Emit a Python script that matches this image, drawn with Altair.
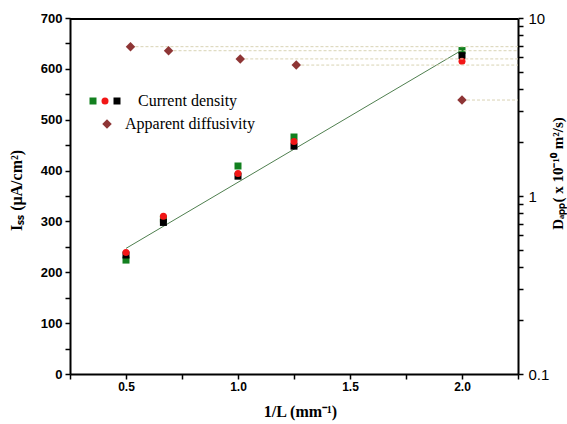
import altair as alt
import pandas as pd

# ---- data ----
inv_L = [0.5, 0.667, 1.0, 1.25, 2.0]
cd_green = [224, 305, 409, 466, 636]
cd_red = [239, 310, 394, 457, 615]
cd_black = [234, 298, 389, 448, 626]
fit_x = [0.5, 2.0]
fit_y = [247, 637]
diff_x = [0.52, 0.69, 1.01, 1.26, 2.0]
diff_y = [6.9, 6.55, 5.89, 5.44, 3.46]

X_MIN, X_MAX = 0.25, 2.25
Y_MAX = 700
x_ticks = [0.25, 0.5, 0.75, 1.0, 1.25, 1.5, 1.75, 2.0, 2.25]
y_ticks = list(range(0, 701, 50))
log_ticks = [0.1, 0.2, 0.3, 0.4, 0.5, 0.6, 0.7, 0.8, 0.9,
             1, 2, 3, 4, 5, 6, 7, 8, 9, 10]

cd_df = pd.DataFrame({"x": inv_L, "green": cd_green, "red": cd_red, "black": cd_black})
fit_df = pd.DataFrame({"x": fit_x, "y": fit_y})
diff_df = pd.DataFrame({"x": diff_x, "y": diff_y, "x_end": [X_MAX] * len(diff_x)})
# top edge of the frame, as a thin filled band at the top of the plot
top_df = pd.DataFrame({"x": [X_MIN], "x_end": [X_MAX], "y": [Y_MAX], "y_end": [Y_MAX - 4]})

SANS = "Liberation Sans"
SERIF = "Liberation Serif"
W, H = 448, 356

x_scale = alt.Scale(domain=[X_MIN, X_MAX], nice=False, zero=False)
y_scale = alt.Scale(domain=[0, Y_MAX], nice=False)
log_scale = alt.Scale(type="log", domain=[0.1, 10], nice=False)

common = dict(grid=False, domain=True, domainColor="black", domainWidth=2,
              tickSize=5, tickWidth=1.5, tickColor="black", labelColor="black",
              titleColor="black")

x_axis = alt.Axis(
    orient="bottom", values=x_ticks,
    labelExpr="(round(datum.value*4) % 2 == 0) ? format(datum.value, '.1f') : ''",
    labelFont=SANS, labelFontSize=12, labelFontWeight="bold", labelPadding=2,
    title="1/L (mm⁻¹)", titleFont=SERIF, titleFontSize=16, titleFontWeight="bold",
    titleX=230, titleY=37, titleBaseline="middle", titleAlign="center",
    **common,
)
y_axis = alt.Axis(
    orient="left", values=y_ticks,
    labelExpr="datum.value % 100 == 0 ? datum.value : ''",
    labelFont=SANS, labelFontSize=13, labelFontWeight="bold", labelPadding=3,
    title="Iₛₛ (μA/cm²)", titleFont=SERIF, titleFontSize=16, titleFontWeight="bold",
    titleX=-54, titleY=172, titleAngle=270,
    titleBaseline="middle", titleAlign="center",
    **common,
)
r_axis = alt.Axis(
    orient="right", values=log_ticks,
    labelExpr="(datum.value == 0.1 || datum.value == 1 || datum.value == 10) ? datum.value + '' : ''",
    labelFont=SANS, labelFontSize=15, labelPadding=5,
    title="Dₐₚₚ( x 10⁻¹⁰ m²/s)", titleFont=SERIF, titleFontSize=15, titleFontWeight="bold",
    titleX=39, titleY=155, titleAngle=270,
    titleBaseline="middle", titleAlign="center",
    **common,
)

X = alt.X("x:Q", scale=x_scale, axis=x_axis)

top = alt.Chart(top_df).mark_rect(color="black", opacity=1).encode(
    x=X, x2="x_end:Q", y=alt.Y("y:Q", scale=y_scale, axis=y_axis), y2="y_end:Q"
)

fit = alt.Chart(fit_df).mark_line(color="#4f7f4f", strokeWidth=1).encode(
    x=X, y=alt.Y("y:Q", scale=y_scale, axis=y_axis)
)


def series(col, shape, color, size):
    return alt.Chart(cd_df).mark_point(shape=shape, filled=True, color=color,
                                       size=size, opacity=1).encode(
        x=X, y=alt.Y(f"{col}:Q", scale=y_scale, axis=y_axis)
    )


green = series("green", "square", "#12801f", 49)
black = series("black", "square", "#000000", 49)
red = series("red", "circle", "#f21616", 49)

one = pd.DataFrame({"k": [0]})


def sym(xp, yp, shape, color, size):
    return alt.Chart(one).mark_point(shape=shape, filled=True, color=color,
                                     size=size, opacity=1).encode(
        x=alt.value(xp), y=alt.value(yp))


def txt(xp, yp, s):
    return alt.Chart(one).mark_text(align="left", baseline="middle", font=SERIF,
                                    fontSize=16, color="black").encode(
        x=alt.value(xp), y=alt.value(yp), text=alt.value(s))


legend = alt.layer(
    sym(23, 83, "square", "#12801f", 49),
    sym(35, 83, "circle", "#f21616", 49),
    sym(47, 83, "square", "#000000", 49),
    txt(68, 83, "Current density"),
    sym(37, 106, "diamond", "#8e3535", 90),
    txt(55, 106, "Apparent diffusivity"),
)

left = alt.layer(top, fit, green, black, red, legend)

dash = alt.Chart(diff_df).mark_rule(color="#d9d3b4", strokeWidth=1, strokeDash=[3, 2]).encode(
    x=X, x2="x_end:Q", y=alt.Y("y:Q", scale=log_scale, axis=r_axis)
)
diam = alt.Chart(diff_df).mark_point(shape="diamond", filled=True, color="#8e3535",
                                     size=90, opacity=1).encode(
    x=X, y=alt.Y("y:Q", scale=log_scale, axis=r_axis)
)
right = alt.layer(dash, diam)

chart = alt.layer(left, right).resolve_scale(y="independent").properties(
    width=W, height=H,
    background="white",
    autosize=alt.AutoSizeParams(type="none"),
    padding={"left": 70, "top": 18, "right": 49, "bottom": 50},
)

chart.save("out.html", embed_options={"renderer": "svg", "actions": False})
